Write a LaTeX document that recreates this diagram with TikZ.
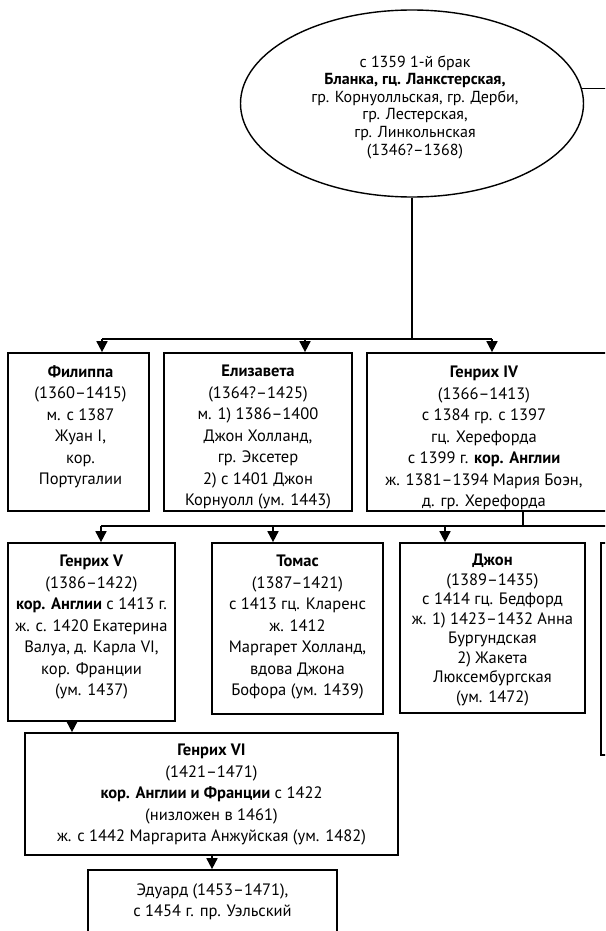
\documentclass[tikz,border=0pt]{standalone}
\usepackage{fontspec}
\setmainfont{PT Sans}
\usetikzlibrary{arrows.meta,shapes.geometric}
\begin{document}
\begin{tikzpicture}[x=1pt,y=-1pt,
  famline/.style={line width=1.7pt},
  kin/.style={famline,-{Triangle[width=11pt,length=11pt]}},
  person/.style={draw,line width=1.7pt,rectangle,inner sep=0pt},
  bio/.style={anchor=north,align=center,inner sep=0pt,
    font=\fontsize{16.5}{21.5}\selectfont},
]
\useasboundingbox (0,0) rectangle (605,931);
\clip (0,0) rectangle (605,931);

% the wife: Blanche of Lancaster
\node[draw,ellipse,line width=1.4pt,minimum width=343pt,minimum height=187pt,inner sep=0pt]
  (bl) at (412,103.5) {};
\node[align=center,inner sep=0pt,font=\fontsize{16}{17.6}\selectfont] (blt) at (415,107)
  {с 1359 1-й брак\\
   \textbf{Бланка, гц. Ланкстерская,}\\
   гр. Корнуолльская, гр. Дерби,\\
   гр. Лестерская,\\
   гр. Линкольнская\\
   (1346?–1368)};

% children
\node[person,minimum width=141pt,minimum height=158pt] (fil) at (78.5,432) {};
\node[bio] (filt) at ([xshift=2pt,yshift=-13pt]fil.north)
  {\textbf{Филиппа}\\(1360–1415)\\м. с 1387\\Жуан I,\\кор.\\Португалии};

\node[person,minimum width=188pt,minimum height=158pt] (eli) at (258,432) {};
\node[bio] (elit) at ([yshift=-13pt]eli.north)
  {\textbf{Елизавета}\\(1364?–1425)\\м. 1) 1386–1400\\Джон Холланд,\\гр. Эксетер\\2) с 1401 Джон\\Корнуолл (ум. 1443)};

\node[person,minimum width=250pt,minimum height=158pt] (h4) at (492,432) {};
\node[bio] (h4t) at (484,366)
  {\textbf{Генрих IV}\\(1366–1413)\\с 1384 гр. с 1397\\гц. Херефорда\\с 1399 г. \textbf{кор. Англии}\\ж. 1381–1394 Мария Боэн,\\д. гр. Херефорда};

% grandchildren
\node[person,minimum width=167pt,minimum height=178pt] (h5) at (91.5,632) {};
\node[bio] (h5t) at ([yshift=-13pt]h5.north)
  {\textbf{Генрих V}\\(1386–1422)\\\textbf{кор. Англии} с 1413 г.\\ж. с. 1420 Екатерина\\Валуа, д. Карла VI,\\кор. Франции\\(ум. 1437)};

\node[person,minimum width=171pt,minimum height=171pt] (tom) at (297.5,628.5) {};
\node[bio] (tomt) at ([yshift=-13pt]tom.north)
  {\textbf{Томас}\\(1387–1421)\\с 1413 гц. Кларенс\\ж. 1412\\Маргарет Холланд,\\вдова Джона\\Бофора (ум. 1439)};

\node[person,minimum width=185pt,minimum height=170pt] (jn) at (492.5,628) {};
\node[bio,font=\fontsize{16.5}{19.5}\selectfont] (jnt) at ([yshift=-12pt]jn.north)
  {\textbf{Джон}\\(1389–1435)\\с 1414 гц. Бедфорд\\ж. 1) 1423–1432 Анна\\Бургундская\\2) Жакета\\Люксембургская\\(ум. 1472)};

\node[person,minimum width=150pt,minimum height=212pt] (nx) at (676,649) {};

% great-grandchildren
\node[person,minimum width=373pt,minimum height=122pt] (h6) at (211.5,794) {};
\node[bio] (h6t) at ([yshift=-12pt]h6.north)
  {\textbf{Генрих VI}\\(1421–1471)\\\textbf{кор. Англии и Франции} с 1422\\(низложен в 1461)\\ж. с 1442 Маргарита Анжуйская (ум. 1482)};

\node[person,minimum width=249pt,minimum height=120pt] (edw) at (212.5,930) {};
\node[bio] (edwt) at ([yshift=-14pt]edw.north)
  {Эдуард (1453–1471),\\с 1454 г. пр. Уэльский};

% junction points of the connectors
\coordinate (fa) at (102,339);
\coordinate (ea) at (305,339);
\coordinate (ha) at (492,339);
\coordinate (hb) at (523,526);
\coordinate (va) at (101,526);
\coordinate (ta) at (273,526);
\coordinate (ja) at (445,526);
\coordinate (busend) at (620,526);
\coordinate (rightend) at (620,88);
\coordinate (c56) at (72,0);
\coordinate (c6e) at (212,0);

% connectors
\draw[famline] (bl.5.2) -- (bl.5.2 -| rightend);
\draw[famline] (bl.south) -- (bl.south |- fa);
\draw[famline] (fa) -- (ha);
\draw[kin] (fa) -- (fa |- fil.north);
\draw[kin] (ea) -- (ea |- eli.north);
\draw[kin] (ha) -- (ha |- h4.north);

\draw[famline] (hb |- h4.south) -- (hb);
\draw[famline] (va) -- (busend);
\draw[kin] (va) -- (va |- h5.north);
\draw[kin] (ta) -- (ta |- tom.north);
\draw[kin] (ja) -- (ja |- jn.north);

\draw[kin] (c56 |- h5.south) -- (c56 |- h6.north);
\draw[kin] (c6e |- h6.south) -- (c6e |- edw.north);
\end{tikzpicture}
\end{document}
